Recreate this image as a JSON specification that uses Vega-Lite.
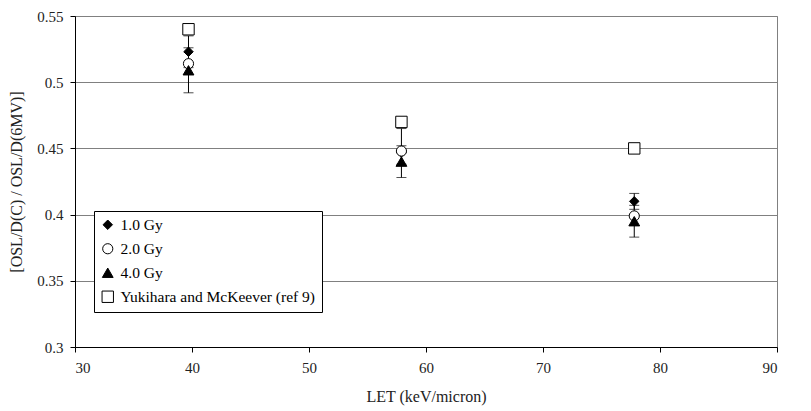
{
  "$schema": "https://vega.github.io/schema/vega-lite/v6.json",
  "autosize": {"type": "none"},
  "width": 702,
  "height": 331,
  "padding": {"left": 75, "top": 16, "right": 34, "bottom": 64},
  "background": "white",
  "config": {
    "font": "Liberation Serif",
    "view": {"stroke": "#808080", "strokeWidth": 1},
    "axis": {"labelFont": "Liberation Serif", "titleFont": "Liberation Serif", "labelColor": "#222", "titleColor": "#222", "titleFontWeight": "normal", "domainColor": "#000", "tickColor": "#000", "labelFontSize": 15, "titleFontSize": 16},
    "legend": {"labelFont": "Liberation Serif", "labelFontSize": 15.5, "labelColor": "#000", "labelLimit": 400, "symbolStrokeColor": "#000", "symbolStrokeWidth": 1}
  },
  "datasets": {
    "pts": [
      {"series": "Yukihara and McKeever (ref 9)", "LET": 39.7, "ratio": 0.540},
      {"series": "Yukihara and McKeever (ref 9)", "LET": 57.9, "ratio": 0.470},
      {"series": "Yukihara and McKeever (ref 9)", "LET": 77.8, "ratio": 0.450},
      {"series": "1.0 Gy", "LET": 39.7, "ratio": 0.523},
      {"series": "1.0 Gy", "LET": 57.9, "ratio": 0.447},
      {"series": "1.0 Gy", "LET": 77.8, "ratio": 0.410},
      {"series": "2.0 Gy", "LET": 39.7, "ratio": 0.514},
      {"series": "2.0 Gy", "LET": 57.9, "ratio": 0.448},
      {"series": "2.0 Gy", "LET": 77.8, "ratio": 0.399},
      {"series": "4.0 Gy", "LET": 39.7, "ratio": 0.509},
      {"series": "4.0 Gy", "LET": 57.9, "ratio": 0.440},
      {"series": "4.0 Gy", "LET": 77.8, "ratio": 0.395}
    ],
    "err": [
      {"series": "1.0 Gy", "LET": 39.7, "lo": 0.511, "hi": 0.535},
      {"series": "1.0 Gy", "LET": 57.9, "lo": 0.438, "hi": 0.465},
      {"series": "1.0 Gy", "LET": 77.8, "lo": 0.404, "hi": 0.416},
      {"series": "4.0 Gy", "LET": 39.7, "lo": 0.492, "hi": 0.526},
      {"series": "4.0 Gy", "LET": 57.9, "lo": 0.428, "hi": 0.452},
      {"series": "4.0 Gy", "LET": 77.8, "lo": 0.383, "hi": 0.407}
    ]
  },
  "layer": [
    {
      "data": {"name": "err"},
      "mark": {"type": "rule", "color": "#000", "strokeWidth": 1},
      "encoding": {
        "x": {"field": "LET", "type": "quantitative", "scale": {"domain": [30, 90], "nice": false},
          "axis": {"title": "LET (keV/micron)", "values": [30, 40, 50, 60, 70, 80, 90], "grid": false, "tickSize": 5, "labelPadding": 8, "titlePadding": 13}},
        "y": {"field": "lo", "type": "quantitative", "scale": {"domain": [0.3, 0.55], "nice": false, "zero": false},
          "axis": {"title": "[OSL/D(C) / OSL/D(6MV)]", "values": [0.3, 0.35, 0.4, 0.45, 0.5, 0.55], "format": ".2~f", "grid": true, "gridColor": "#808080", "gridWidth": 1, "tickSize": 5, "labelPadding": 7, "titlePadding": 12}},
        "y2": {"field": "hi"}
      }
    },
    {
      "data": {"name": "err"},
      "mark": {"type": "tick", "color": "#000", "orient": "horizontal", "size": 10, "thickness": 1},
      "encoding": {
        "x": {"field": "LET", "type": "quantitative"},
        "y": {"field": "lo", "type": "quantitative"}
      }
    },
    {
      "data": {"name": "err"},
      "mark": {"type": "tick", "color": "#000", "orient": "horizontal", "size": 10, "thickness": 1},
      "encoding": {
        "x": {"field": "LET", "type": "quantitative"},
        "y": {"field": "hi", "type": "quantitative"}
      }
    },
    {
      "data": {"name": "pts"},
      "mark": {"type": "point", "strokeWidth": 1, "opacity": 1, "fillOpacity": 1},
      "encoding": {
        "x": {"field": "LET", "type": "quantitative"},
        "y": {"field": "ratio", "type": "quantitative"},
        "shape": {"field": "series", "type": "nominal",
          "scale": {"domain": ["1.0 Gy", "2.0 Gy", "4.0 Gy", "Yukihara and McKeever (ref 9)"], "range": ["diamond", "circle", "triangle-up", "square"]},
          "legend": {"title": null, "orient": "none", "legendX": 19, "legendY": 195, "strokeColor": "#000", "fillColor": "white", "padding": 6, "rowPadding": 7, "labelOffset": 5}},
        "fill": {"field": "series", "type": "nominal",
          "scale": {"domain": ["1.0 Gy", "2.0 Gy", "4.0 Gy", "Yukihara and McKeever (ref 9)"], "range": ["#000", "#fff", "#000", "#fff"]},
          "legend": {"title": null, "orient": "none", "legendX": 19, "legendY": 195, "strokeColor": "#000", "fillColor": "white", "padding": 6, "rowPadding": 7, "labelOffset": 5}},
        "stroke": {"field": "series", "type": "nominal",
          "scale": {"domain": ["1.0 Gy", "2.0 Gy", "4.0 Gy", "Yukihara and McKeever (ref 9)"], "range": ["#000", "#000", "#000", "#000"]},
          "legend": {"title": null, "orient": "none", "legendX": 19, "legendY": 195, "strokeColor": "#000", "fillColor": "white", "padding": 6, "rowPadding": 7, "labelOffset": 5}},
        "size": {"field": "series", "type": "nominal",
          "scale": {"domain": ["1.0 Gy", "2.0 Gy", "4.0 Gy", "Yukihara and McKeever (ref 9)"], "range": [90, 130, 120, 170]},
          "legend": {"title": null, "orient": "none", "legendX": 19, "legendY": 195, "strokeColor": "#000", "fillColor": "white", "padding": 6, "rowPadding": 7, "labelOffset": 5}}
      }
    }
  ]
}
